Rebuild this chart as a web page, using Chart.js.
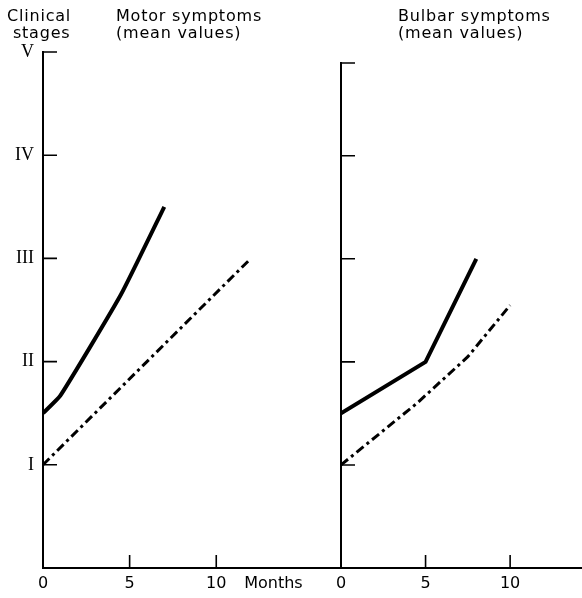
<!DOCTYPE html>
<html>
<head>
<meta charset="utf-8">
<script src="https://cdn.jsdelivr.net/npm/chart.js@4.4.1/dist/chart.umd.min.js"></script>
<style>
  html, body { margin: 0; padding: 0; background: #fff; }
  #page { position: relative; width: 582px; height: 598px; overflow: hidden; }
  canvas { position: absolute; top: 0; }
  .lbl { position: absolute; font-family: "DejaVu Sans", sans-serif; font-size: 16px; letter-spacing: 0.8px; line-height: 17px; color: #000; white-space: nowrap; }
</style>
</head>
<body>
<div id="page">
  <canvas id="chart-0" width="341" height="598" style="left:0;width:341px;height:598px"></canvas>
  <canvas id="chart-1" width="282" height="598" style="left:300px;width:282px;height:598px"></canvas>
  <div class="lbl" style="left:7px;top:7px">Clinical<br>&nbsp;stages</div>
  <div class="lbl" style="left:116px;top:7px">Motor symptoms<br>(mean values)</div>
  <div class="lbl" style="left:398px;top:7px">Bulbar symptoms<br>(mean values)</div>
</div>
<script>
// clinical stages (1 = I ... 5 = V) against months
var stageLabels = ["", "I", "II", "III", "IV", "V"];
var monthTicks = [0, 5, 10];
var monthsTitleAt = 13.3;

var motorSolidMonths = [0, 1, 4.5, 7];
var motorSolidStages = [1.5, 1.67, 2.65, 3.5];
var motorDashMonths = [0, 12];
var motorDashStages = [1, 3];

var bulbarSolidMonths = [0, 5, 8];
var bulbarSolidStages = [1.5, 2, 3];
var bulbarDashMonths = [0, 4.5, 7.5, 10];
var bulbarDashStages = [1, 1.6, 2.05, 2.55];

function pts(xs, ys) {
    return xs.map(function (x, i) { return { x: x, y: ys[i] }; });
}

var innerTicks = {
    id: 'innerTicks',
    afterDatasetsDraw: function (chart, args, opts) {
        var ctx = chart.ctx, xs = chart.scales.x, ys = chart.scales.y;
        ctx.save();
        ctx.strokeStyle = '#000';
        ctx.lineWidth = 1.6;
        ctx.beginPath();
        opts.x.forEach(function (v) {
            var px = xs.getPixelForValue(v);
            ctx.moveTo(px, ys.bottom);
            ctx.lineTo(px, ys.bottom - 13);
        });
        opts.y.forEach(function (v) {
            var py = ys.getPixelForValue(v);
            ctx.moveTo(xs.left, py);
            ctx.lineTo(xs.left + 14, py);
        });
        ctx.stroke();
        ctx.restore();
    }
};

function makeConfig(solid, dash, tension, xMax, yMax, topPad, showY, extraX) {
    return {
        type: 'line',
        data: {
            datasets: [{
                data: solid,
                borderColor: '#000',
                borderWidth: 4,
                pointRadius: 0,
                tension: tension,
                label: 'solid'
            }, {
                data: dash,
                borderColor: '#000',
                borderWidth: 3,
                borderDash: [9, 4, 3, 4],
                pointRadius: 0,
                tension: 0,
                label: 'dash-dot'
            }]
        },
        options: {
            responsive: false,
            animation: false,
            layout: { padding: { top: topPad, right: 0, left: 0, bottom: 0 } },
            plugins: {
                legend: { display: false },
                tooltip: { enabled: false },
                innerTicks: { x: [5, 10], y: showY ? [1, 2, 3, 4, 5] : [1, 2, 3, 4, yMax] }
            },
            scales: {
                x: {
                    type: 'linear',
                    min: 0,
                    max: xMax,
                    grid: { display: false, drawTicks: false },
                    border: { color: '#000', width: 2 },
                    afterBuildTicks: function (s) {
                        s.ticks = monthTicks.concat(extraX ? [monthsTitleAt] : []).map(function (v) { return { value: v }; });
                    },
                    afterFit: function (s) { s.height = 30; },
                    ticks: {
                        color: '#000',
                        padding: 6,
                        maxRotation: 0,
                        autoSkip: false,
                        font: { family: 'DejaVu Sans', size: 16 },
                        callback: function (v) { return v === monthsTitleAt ? 'Months' : String(v); }
                    }
                },
                y: {
                    type: 'linear',
                    min: 0,
                    max: yMax,
                    grid: { display: false, drawTicks: false },
                    border: { color: '#000', width: 2 },
                    afterBuildTicks: function (s) {
                        s.ticks = [1, 2, 3, 4, 5].map(function (v) { return { value: v }; });
                    },
                    afterFit: function (s) { s.width = showY ? 43 : 41; },
                    ticks: {
                        display: showY,
                        color: '#000',
                        padding: 9,
                        font: { family: 'Liberation Serif', size: 18 },
                        callback: function (v) { return stageLabels[v]; }
                    }
                }
            }
        },
        plugins: [innerTicks]
    };
}

window.onload = function () {
    new Chart(document.getElementById('chart-0').getContext('2d'),
        makeConfig(pts(motorSolidMonths, motorSolidStages), pts(motorDashMonths, motorDashStages), 0.15, 17.2, 5, 52, true, true));
    new Chart(document.getElementById('chart-1').getContext('2d'),
        makeConfig(pts(bulbarSolidMonths, bulbarSolidStages), pts(bulbarDashMonths, bulbarDashStages), 0, 14.25, 4.9, 63, false, false));
};
</script>
</body>
</html>
